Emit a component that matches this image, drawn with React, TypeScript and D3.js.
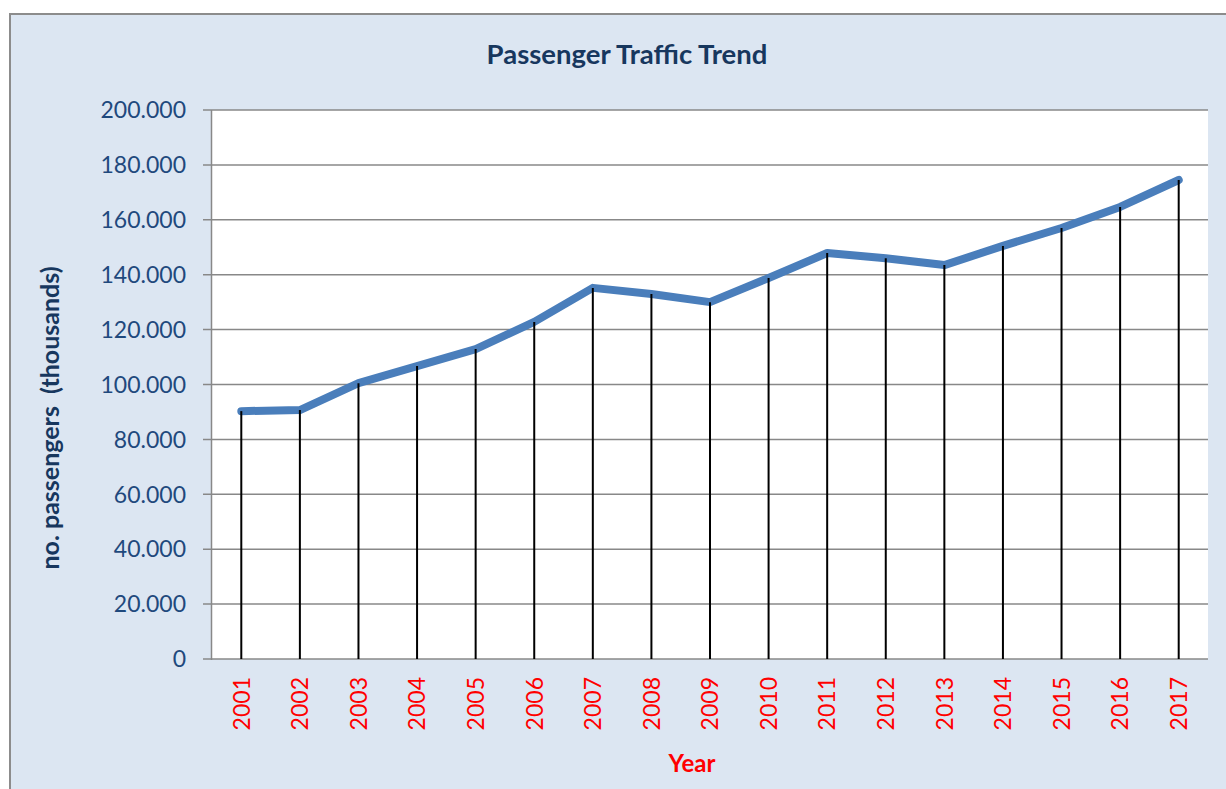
import React from "react";
import * as d3 from "d3";

const years = ["2001","2002","2003","2004","2005","2006","2007","2008","2009","2010","2011","2012","2013","2014","2015","2016","2017"];
const passengers = [90.3, 90.7, 100.5, 106.7, 112.9, 122.8, 135.2, 133.0, 130.0, 138.8, 147.9, 146.0, 143.5, 150.5, 157.0, 164.7, 174.5];
const yTicks = [0, 20, 40, 60, 80, 100, 120, 140, 160, 180, 200];
const yTickLabels = ["0", "20.000", "40.000", "60.000", "80.000", "100.000", "120.000", "140.000", "160.000", "180.000", "200.000"];

const W = 1226, H = 789;
const plot = { left: 212, right: 1208, top: 110, bottom: 659 };
const FONT = "Lato, 'Open Sans', sans-serif";

export default function App() {
  const x = d3.scaleBand().domain(years).range([plot.left, plot.right]).padding(0);
  const y = d3.scaleLinear().domain([0, 200]).range([plot.bottom, plot.top]);
  const cx = (yr: string) => (x(yr) as number) + x.bandwidth() / 2;
  const line = d3.line<number>().x((_, i) => cx(years[i])).y((d) => y(d));

  return (
    <svg width={W} height={H} style={{ position: "absolute", left: 0, top: 0 }} fontFamily={FONT}>
      <rect x={10} y={14} width={1240} height={800} fill="#DCE6F2" stroke="#8C8C8C" strokeWidth={2} />
      <rect x={plot.left} y={plot.top} width={plot.right - plot.left} height={plot.bottom - plot.top} fill="#FFFFFF" />
      {yTicks.map((t, i) => (
        <g key={t}>
          <line x1={203} x2={plot.right} y1={y(t)} y2={y(t)} stroke="#888888" strokeWidth={1.5} />
          <text x={186} y={y(t)} dy="0.36em" textAnchor="end" fontSize={23} fill="#1F497D">
            {yTickLabels[i]}
          </text>
        </g>
      ))}
      <line x1={plot.left - 0.5} x2={plot.left - 0.5} y1={plot.top} y2={plot.bottom + 1} stroke="#888888" strokeWidth={1.5} />
      <path d={line(passengers) || ""} fill="none" stroke="#4A7EBB" strokeWidth={8} strokeLinejoin="round" strokeLinecap="round" />
      {years.map((yr, i) => (
        <line key={yr} x1={cx(yr)} x2={cx(yr)} y1={y(passengers[i])} y2={plot.bottom} stroke="#000000" strokeWidth={2} />
      ))}
      {years.map((yr) => (
        <text key={yr} transform={`translate(${cx(yr)},${677}) rotate(-90)`} textAnchor="end" dy="0.36em" fontSize={23} fill="#FF0000">
          {yr}
        </text>
      ))}
      <text x={627} y={54} dy="0.36em" textAnchor="middle" fontSize={27.5} fontWeight="bold" fill="#17375E">
        Passenger Traffic Trend
      </text>
      <text transform={`translate(50,418) rotate(-90)`} textAnchor="middle" dy="0.36em" fontSize={25} fontWeight="bold" fill="#17375E" style={{ whiteSpace: "pre" }}>
        {"no. passengers  (thousands)"}
      </text>
      <text x={692} y={763} dy="0.36em" textAnchor="middle" fontSize={24} fontWeight="bold" fill="#FF0000">
        Year
      </text>
    </svg>
  );
}
